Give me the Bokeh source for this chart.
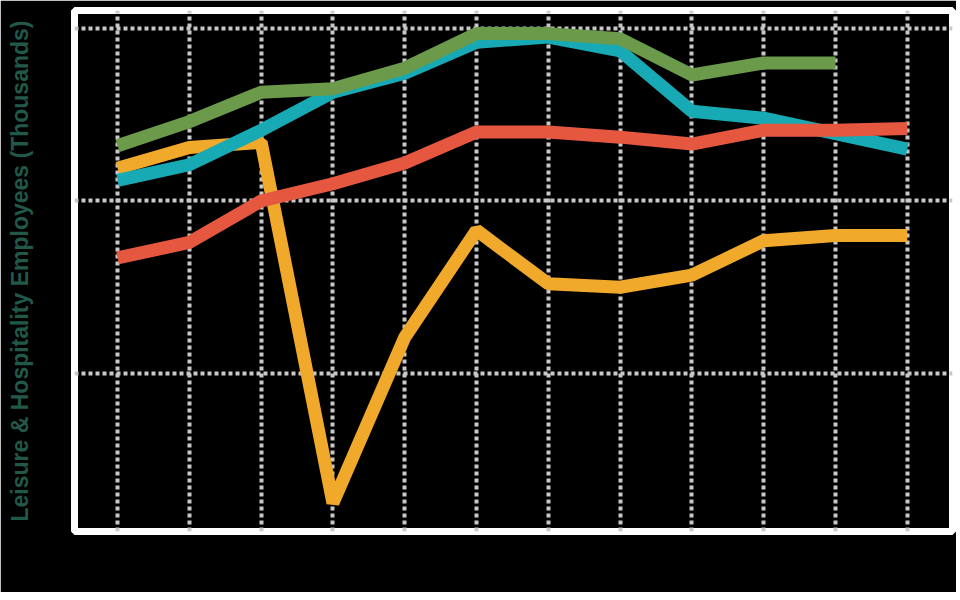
import math
from bokeh.plotting import figure
from bokeh.models import FixedTicker, Range1d
from bokeh.embed import file_html
from bokeh.resources import INLINE

# --- data ---
periods = [1, 2, 3, 4, 5, 6, 7, 8, 9, 10, 11, 12]
green_series = [232, 246, 263, 265, 277, 297, 297, 294, 273, 280, 280, math.nan]
cyan_series = [212, 221, 241, 263, 274, 292, 295, 287, 252, 248, 239, 230]
red_series = [167, 176, 200, 210, 222, 240, 240, 237, 233, 241, 241, 242]
yellow_series = [219, 231, 234, 25, 121, 183, 152, 150, 157, 177, 180, 180]
y_ticks = [100, 200, 300]

p = figure(width=956, height=592, output_backend="svg", toolbar_location=None,
           x_range=Range1d(0.40, 12.63), y_range=Range1d(8.45, 310.4),
           min_border_left=74, min_border_right=4, min_border_top=10, min_border_bottom=61)

p.background_fill_color = "black"
p.border_fill_color = "black"
p.outline_line_color = "white"
p.outline_line_width = 7

for s, c in [(yellow_series, "#f0a92a"), (cyan_series, "#17a9b4"),
             (red_series, "#e5573f"), (green_series, "#6b9a4b")]:
    p.line(periods, s, line_color=c, line_width=13)

p.xaxis.ticker = FixedTicker(ticks=periods)
p.xaxis.visible = False
p.yaxis.ticker = FixedTicker(ticks=y_ticks)
p.yaxis.major_label_overrides = {t: "" for t in y_ticks}
p.yaxis.axis_line_color = None
p.yaxis.major_tick_line_color = None
p.yaxis.minor_tick_line_color = None
p.yaxis.major_tick_out = 0
p.yaxis.major_label_standoff = 0
p.yaxis.axis_label = "Leisure & Hospitality Employees (Thousands)"
p.yaxis.axis_label_text_font = "Liberation Sans"
p.yaxis.axis_label_text_font_size = "23px"
p.yaxis.axis_label_text_font_style = "bold"
p.yaxis.axis_label_text_color = "#22584a"
p.yaxis.axis_label_standoff = 42

for g in (p.xgrid, p.ygrid):
    g.grid_line_color = "#c8c8c8"
    g.grid_line_width = 4
    g.grid_line_dash = "4 3"

open("out.html", "w").write(file_html(p, INLINE))
